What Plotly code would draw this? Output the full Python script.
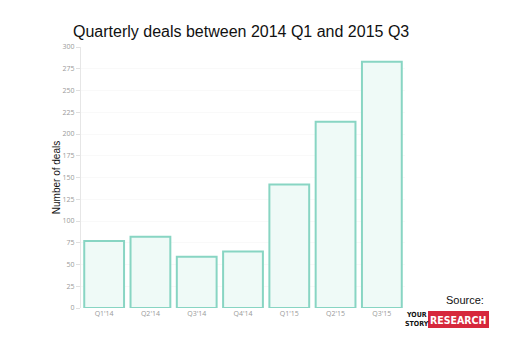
import plotly.graph_objects as go

quarters = ["Q1'14", "Q2'14", "Q3'14", "Q4'14", "Q1'15", "Q2'15", "Q3'15"]
deals = [77, 82, 59, 65, 142, 214, 283]
y_ticks = [0, 25, 50, 75, 100, 125, 150, 175, 200, 225, 250, 275, 300]

# Plot-area margins in pixels
ML, MR, MT, MB = 81, 106, 47, 30
W, H = 511, 338

fig = go.Figure(
    go.Bar(
        x=quarters,
        y=deals,
        marker=dict(color="#effaf7", line=dict(color="#88d5c3", width=2)),
        hoverinfo="x+y",
    )
)

fig.update_layout(
    width=W,
    height=H,
    margin=dict(l=ML, r=MR, t=MT, b=MB),
    paper_bgcolor="white",
    plot_bgcolor="white",
    bargap=0.14,
    showlegend=False,
    title=dict(
        text="Quarterly deals between 2014 Q1 and 2015 Q3",
        x=73 / W,
        xanchor="left",
        y=1 - 31 / H,
        yanchor="middle",
        font=dict(family="Liberation Sans, Arial, sans-serif", size=16, color="#111111"),
    ),
    font=dict(family="Open Sans, sans-serif"),
)

fig.update_yaxes(
    range=[0, 300],
    tickvals=y_ticks,
    ticktext=[str(v) for v in y_ticks],
    tickfont=dict(size=7, color="#9a9a9a"),
    showgrid=True,
    gridcolor="#f9f9f9",
    gridwidth=1,
    zeroline=False,
    showline=True,
    linecolor="#e6e6e6",
    linewidth=1,
    ticks="outside",
    ticklen=4,
    tickcolor="#e0e0e0",
    title=dict(
        text="Number of deals",
        font=dict(family="Liberation Sans, Arial, sans-serif", size=10, color="#111111"),
        standoff=0,
    ),
)

fig.update_xaxes(
    tickfont=dict(size=7, color="#9a9a9a"),
    showgrid=False,
    showline=False,
    ticks="",
)


def px_x(p):
    return (p - ML) / (W - ML - MR)


def px_y(p):
    return (H - MB - p) / (H - MT - MB)


# Source credit with the logo block
fig.add_annotation(
    text="Source:", xref="paper", yref="paper",
    x=px_x(486), y=px_y(300), xanchor="right", yanchor="middle",
    showarrow=False,
    font=dict(family="Liberation Sans, Arial, sans-serif", size=11, color="#111111"),
)
fig.add_shape(
    type="rect", xref="paper", yref="paper",
    x0=px_x(428), x1=px_x(489), y0=px_y(328), y1=px_y(311),
    fillcolor="#d6283c", line=dict(width=0),
)
fig.add_annotation(
    text="<b>RESEARCH</b>", xref="paper", yref="paper",
    x=px_x(458.5), y=px_y(319.5), xanchor="center", yanchor="middle",
    showarrow=False,
    font=dict(family="DejaVu Sans Condensed, sans-serif", size=10.5, color="white"),
)
fig.add_annotation(
    text="<b>YOUR</b>", xref="paper", yref="paper",
    x=px_x(416.5), y=px_y(315), xanchor="center", yanchor="middle",
    showarrow=False,
    font=dict(family="DejaVu Sans Condensed, sans-serif", size=7, color="#111111"),
)
fig.add_annotation(
    text="<b>STORY</b>", xref="paper", yref="paper",
    x=px_x(416.5), y=px_y(323.5), xanchor="center", yanchor="middle",
    showarrow=False,
    font=dict(family="DejaVu Sans Condensed, sans-serif", size=7, color="#111111"),
)

fig.write_html("out.html")
